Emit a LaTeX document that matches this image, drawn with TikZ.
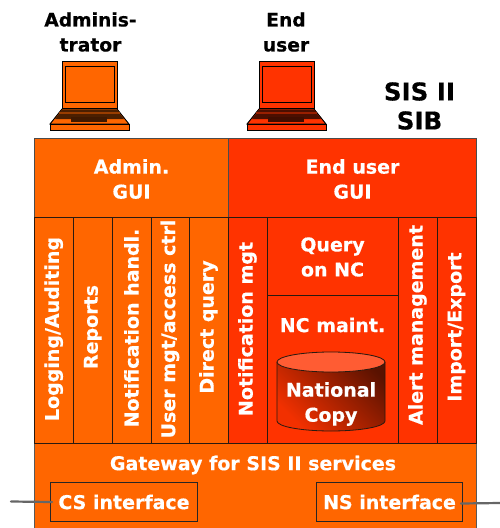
\documentclass[tikz,border=0pt]{standalone}
\usepackage{fontspec}
\setmainfont{DejaVu Sans}[BoldFont={DejaVu Sans Bold},BoldFeatures={FakeBold=0.4}]
\definecolor{org}{HTML}{FF6600}
\definecolor{red1}{HTML}{FF3300}
\definecolor{edge}{HTML}{2A1A10}
\tikzset{
  cell/.style={draw=edge,line width=1pt,inner sep=0pt},
  lab/.style={text=white,font=\fontsize{19}{25}\selectfont\bfseries,align=center,inner sep=0pt},
  vlab/.style={lab,rotate=90},
  head/.style={text=black,font=\fontsize{18.7}{25}\selectfont\bfseries,align=center,inner sep=0pt},
  wire/.style={draw=black!60,line width=2.2pt,line cap=round},
  lapline/.style={draw=black,line width=0.9pt},
}
\newcommand{\laptop}[3]{%
 \begin{scope}[shift={(#1,0)}]
  \fill[#2,lapline] (62,61) rectangle (117,108);
  \draw[lapline] (65,66) rectangle (114,102);
  \fill[#2,lapline] (62,109) -- (117,109) -- (129,124) -- (50,124) -- cycle;
  \fill[#3] (62,109.5) -- (117,109.5) -- (124,119) -- (55,119) -- cycle;
  \draw[#2!60!black,line width=1.1pt] (59,113) -- (120,113);
  \fill[black!75!#2,line width=0.6pt] (71,117) rectangle (107,122);
  \fill[#2,lapline] (50,124) rectangle (129,130.5);
 \end{scope}}
\begin{document}
\begin{tikzpicture}[x=1pt,y=-1pt]
\useasboundingbox (0,0) rectangle (500,528);
% gateway
\fill[org,draw=black!65,line width=1pt] (34,443) rectangle (476,529);
% laptops
\laptop{0}{org}{black!70!org}
\laptop{197}{red1}{black!70!red1}
\node[head] (admlab) at (90.5,32) {Adminis-\\trator};
\node[head] (endlab) at (286,32) {End\\user};
\node[head,font=\fontsize{24.5}{29}\selectfont\bfseries] (sislab) at (419.5,106) {SIS II\\SIB};
% GUIs
\node[cell,fill=org,draw=black!70,minimum width=194pt,minimum height=79pt,anchor=north west] (agui) at (34,138) {};
\node[cell,fill=red1,draw=black!70,minimum width=248pt,minimum height=79pt,anchor=north west] (egui) at (228,138) {};
\node[lab] at ([yshift=-1pt]agui.center) {Admin.\\GUI};
\node[lab] at ([yshift=-1pt]egui.center) {End user\\GUI};
% admin columns
\foreach \n/\a/\b/\t/\y in {c1/34/73.5/Logging\slash Auditing/329,c2/73.5/112/Reports/327,c3/112/151/Notification handl./328,c4/151/189/User mgt\slash access ctrl/329,c5/189/228/Direct query/327}{
  \path[cell,fill=org,draw=edge] (\a,217) rectangle (\b,443);
  \node[vlab] (\n) at ({(\a+\b)/2},\y) {\t};
}
\foreach \n/\a/\b/\t/\y in {c6/228/267/Notification mgt/329,c8/398/437/Alert management/325,c9/437/476/Import\slash Export/327}{
  \path[cell,fill=red1,draw=edge] (\a,217) rectangle (\b,443);
  \node[vlab] (\n) at ({(\a+\b)/2},\y) {\t};
}
\path[cell,fill=red1,draw=edge] (267,217) rectangle (398,295);
\path[cell,fill=red1,draw=edge] (267,295) rectangle (398,443);
\node[lab] (q) at (332.5,257) {Query\\on NC};
\node[lab] (m) at (332.5,325) {NC maint.};
% cylinder
\shade[left color=red1!95!black,right color=black!65!red1,shading angle=135]
  (277,362) -- (277,421) arc[start angle=180,end angle=0,x radius=54,y radius=10] -- (385,362) arc[start angle=0,end angle=-180,x radius=54,y radius=10];
\draw[edge,line width=0.8pt] (277,362) -- (277,421) arc[start angle=180,end angle=0,x radius=54,y radius=10] -- (385,362);
\draw[edge,line width=0.8pt,fill=red1!80!white] (331,362) ellipse[x radius=54,y radius=10];
\node[lab] (nc) at (331,404) {National\\Copy};
% gateway content
\node[lab] (gw) at (253,465) {Gateway for SIS II services};
\node[cell,draw=black!85,minimum width=147pt,minimum height=39pt,anchor=north west,lab] (cs) at (50,482) {CS interface};
\node[cell,draw=black!85,minimum width=146pt,minimum height=39pt,anchor=north west,lab] (ns) at (316,482) {NS interface};
\coordinate (wl) at (11,501.5);
\coordinate (wr) at (500,503);
\draw[wire] (wl) -- ([xshift=2pt]cs.west);
\draw[wire] ([xshift=-2pt,yshift=-1.5pt]ns.east) -- (wr);
\end{tikzpicture}
\end{document}
